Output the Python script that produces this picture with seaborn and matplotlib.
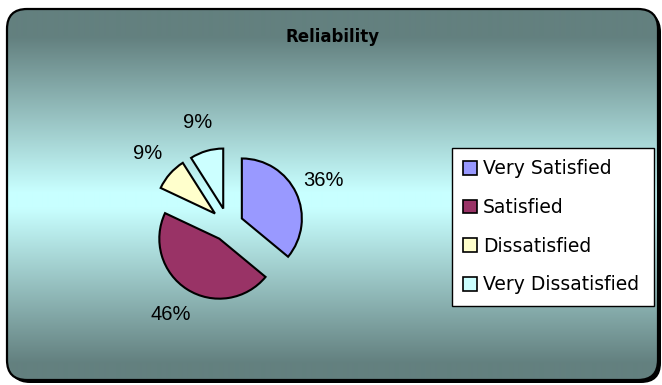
import numpy as np
import matplotlib
matplotlib.use('Agg')
import matplotlib.pyplot as plt
from matplotlib.patches import FancyBboxPatch, Patch
import seaborn as sns

# ---- data ----
categories = ['Very Satisfied', 'Satisfied', 'Dissatisfied', 'Very Dissatisfied']
values = [36, 46, 9, 9]
title = 'Reliability'

sns.set_theme(style='white')
plt.rcParams['font.family'] = ['DejaVu Sans']
plt.rcParams['text.color'] = 'black'

colors = sns.color_palette(['#9999FF', '#993366', '#FFFFCC', '#CCFFFF'])

W, H = 662, 385
fig = plt.figure(figsize=(W / 100, H / 100), dpi=100)
fig.patch.set_facecolor('white')

# ---- background rounded panel with vertical gradient ----
bg = fig.add_axes([0, 0, 1, 1])
bg.set_xlim(0, W)
bg.set_ylim(H, 0)
bg.axis('off')

x0, y0, bw, bh = 7, 9, 651, 371
shadow = FancyBboxPatch((x0 + 3, y0 + 3), bw, bh,
                        boxstyle='round,pad=0,rounding_size=20',
                        fc='black', ec='none', zorder=0)
bg.add_patch(shadow)

dark = np.array([99, 128, 127]) / 255
light = np.array([200, 255, 255]) / 255
ys = np.arange(H) + 0.5
f = np.clip((np.abs(ys - 200) - 8) / 155, 0, 1)
grad = light[None, :] + (dark - light)[None, :] * f[:, None]
grad = np.repeat(grad[:, None, :], 2, axis=1)

clip_box = FancyBboxPatch((x0, y0), bw, bh,
                          boxstyle='round,pad=0,rounding_size=20',
                          fc='none', ec='none', transform=bg.transData)
img = bg.imshow(grad, extent=(0, W, H, 0), aspect='auto', zorder=1,
                interpolation='bilinear')
img.set_clip_path(clip_box)
border = FancyBboxPatch((x0, y0), bw, bh,
                        boxstyle='round,pad=0,rounding_size=20',
                        fc='none', ec='black', lw=1.6, zorder=2)
bg.add_patch(border)
bg.set_xlim(0, W)
bg.set_ylim(H, 0)

# ---- title ----
fig.text(333 / W, 1 - 37 / H, title, ha='center', va='center',
         fontsize=12, fontweight='bold', color='black')

# ---- pie ----
ax = fig.add_axes([128 / W, (H - 325) / H, 200 / W, 200 / H])
ax.set_facecolor('none')
wedges, texts, autotexts = ax.pie(
    values, colors=colors, startangle=90, counterclock=False,
    explode=[0.255, 0.27, 0.29, 0.285], radius=1.0,
    autopct='%1.0f%%', pctdistance=1.5,
    wedgeprops=dict(edgecolor='black', linewidth=1.5),
    textprops=dict(fontsize=14.5, family=['Liberation Sans', 'DejaVu Sans'],
                   color='black'))
ax.set_xlim(-5 / 3, 5 / 3)
ax.set_ylim(-5 / 3, 5 / 3)
ax.set_aspect('equal')
ax.axis('off')

# ---- legend ----
handles = [Patch(facecolor=c, edgecolor='black', linewidth=1.2) for c in colors]
leg = fig.legend(handles, categories, loc='upper left',
                 bbox_to_anchor=(452 / W, 1 - 148 / H, 202 / W, 0),
                 mode='expand', borderaxespad=0, fontsize=13.5,
                 handlelength=0.75, handleheight=0.75, handletextpad=0.3,
                 labelspacing=1.05, borderpad=0.6, fancybox=False,
                 frameon=True, framealpha=1, edgecolor='black',
                 labelcolor='black')
leg.get_frame().set_linewidth(1.0)
leg.get_frame().set_facecolor('white')

fig.savefig('out.png', dpi=100)
